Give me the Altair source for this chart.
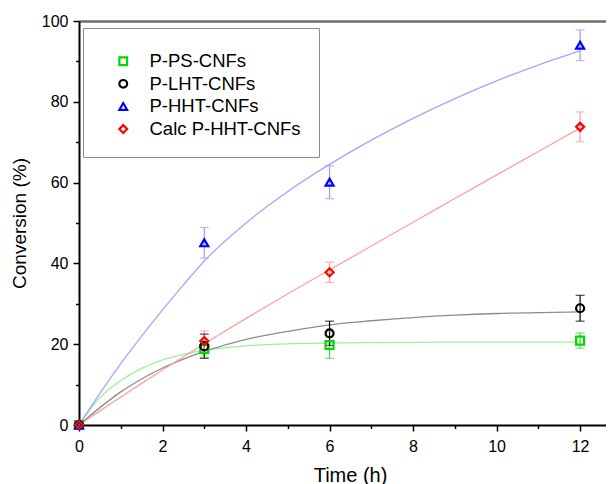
import altair as alt
import pandas as pd

series = ["P-PS-CNFs", "P-LHT-CNFs", "P-HHT-CNFs", "Calc P-HHT-CNFs"]
marker_colors = ["#00d800", "#000000", "#0000ff", "#ff0000"]
curve_colors = ["#9ef09e", "#8c8c8c", "#a5a5ff", "#ffa0a0"]
err_colors = ["#3cd83c", "#000000", "#9a9aff", "#ff9a9a"]
shapes = ["square", "circle", "triangle-up", "diamond"]

# measured points
t_pts = [0, 3, 6, 12]
ps_y = [0, 18.8, 19.8, 20.9]
ps_err = [0, 2.0, 3.3, 1.9]
lht_y = [0, 19.5, 22.7, 28.9]
lht_err = [0, 3.0, 3.0, 3.2]
hht_y = [0, 45.1, 60.1, 94.0]
hht_err = [0, 3.8, 4.1, 3.8]
calc_y = [0, 20.8, 37.8, 73.8]
calc_err = [0, 2.5, 2.5, 3.7]

# fitted curves
t_fit = [0, 0.5, 1, 1.5, 2, 2.5, 3, 4, 5, 6, 7, 8, 9, 10, 11, 12]
ps_fit = [0, 6.8, 11.0, 14.0, 16.1, 17.5, 18.5, 19.6, 20.1, 20.3, 20.4, 20.45, 20.5, 20.5, 20.5, 20.5]
lht_fit = [0, 4.3, 8.2, 11.4, 14.1, 16.3, 18.2, 21.2, 23.2, 24.8, 25.8, 26.6, 27.2, 27.6, 27.8, 28.0]
hht_fit = [0, 7.8, 15.2, 22.0, 28.5, 34.7, 40.6, 50.0, 57.8, 64.5, 70.5, 75.9, 80.8, 85.2, 89.1, 92.6]
calc_fit = [0, 3.5, 6.9, 10.3, 13.6, 16.9, 20.1, 26.4, 32.5, 38.4, 44.3, 50.2, 56.05, 61.9, 67.7, 73.5]

ys = [ps_y, lht_y, hht_y, calc_y]
errs = [ps_err, lht_err, hht_err, calc_err]
fits = [ps_fit, lht_fit, hht_fit, calc_fit]

pts_rows, err_rows, cap_rows, fit_rows = [], [], [], []
for s, yv, ev, fv in zip(series, ys, errs, fits):
    for t, y, e in zip(t_pts, yv, ev):
        pts_rows.append({"series": s, "t": t, "v": y})
        if e > 0:
            err_rows.append({"series": s, "key": "err:" + s, "t": t, "lo": y - e, "hi": y + e})
            cap_rows.append({"series": s, "t": t, "c": y - e})
            cap_rows.append({"series": s, "t": t, "c": y + e})
    for t, f in zip(t_fit, fv):
        fit_rows.append({"series": s, "key": "fit:" + s, "t": t, "v": f})

pts = pd.DataFrame(pts_rows)
errdf = pd.DataFrame(err_rows)
caps = pd.DataFrame(cap_rows)
fitdf = pd.DataFrame(fit_rows)

stroke_scale = alt.Scale(domain=["fit:" + s for s in series] + ["err:" + s for s in series],
                         range=curve_colors + err_colors)

FONT = "Liberation Sans"
XS = alt.Scale(domain=[0, 12.62], nice=False, zero=False)
YS = alt.Scale(domain=[0, 100], nice=False)

x_major = alt.Axis(orient="bottom", values=[0, 2, 4, 6, 8, 10, 12], title="Time (h)",
                   tickSize=6, tickWidth=1.5, tickColor="black", domainColor="black",
                   domainWidth=2, labelFontSize=16, labelPadding=7, labelColor="black",
                   labelFont=FONT, titleFont=FONT, titleFontSize=20, titleFontWeight="normal",
                   titleColor="black", titlePadding=11, titleX=271, grid=False, format="d",
                   labelFlush=False)
y_major = alt.Axis(orient="left", values=[0, 20, 40, 60, 80, 100], title="Conversion (%)",
                   tickSize=6, tickWidth=1.5, tickColor="black", domainColor="black",
                   domainWidth=2, labelFontSize=16, labelPadding=5, labelColor="black",
                   labelFont=FONT, titleFont=FONT, titleFontSize=19, titleFontWeight="normal",
                   titleColor="black", titlePadding=12, grid=False, format="d",
                   labelFlush=False)
x_minor = alt.Axis(orient="bottom", values=[1, 3, 5, 7, 9, 11], title=None, labels=False,
                   domain=False, tickSize=3.5, tickWidth=1.5, tickColor="black", grid=False)
y_minor = alt.Axis(orient="left", values=[10, 30, 50, 70, 90], title=None, labels=False,
                   domain=False, tickSize=3.5, tickWidth=1.5, tickColor="black", grid=False)
x_top = alt.Axis(orient="top", title=None, labels=False, ticks=False, domainColor="#6e6e6e",
                 domainWidth=2.5, grid=False)

curves = alt.Chart(fitdf).mark_line(strokeWidth=1.3, interpolate="monotone").encode(
    x=alt.X("t:Q", scale=XS, axis=x_major),
    y=alt.Y("v:Q", scale=YS, axis=y_major),
    stroke=alt.Stroke("key:N", scale=stroke_scale, legend=None),
    detail="series:N",
)

minor_axes = alt.Chart(fitdf).mark_line(strokeOpacity=0).encode(
    x=alt.X("t:Q", scale=XS, axis=x_minor),
    y=alt.Y("v:Q", scale=YS, axis=y_minor),
    detail="series:N",
)
top_axis = alt.Chart(fitdf).mark_line(strokeOpacity=0).encode(
    x=alt.X("t:Q", scale=XS, axis=x_top),
    y=alt.Y("v:Q", scale=YS, axis=None),
    detail="series:N",
)

rules = alt.Chart(errdf).mark_rule(strokeWidth=1.2).encode(
    x=alt.X("t:Q", scale=XS, axis=None),
    y=alt.Y("lo:Q", scale=YS, axis=None),
    y2="hi:Q",
    stroke=alt.Stroke("key:N", scale=stroke_scale, legend=None),
)
capm = alt.Chart(caps).mark_tick(orient="horizontal", size=9, thickness=1.2).encode(
    x=alt.X("t:Q", scale=XS, axis=None),
    y=alt.Y("c:Q", scale=YS, axis=None),
    fill=alt.Fill("series:N", scale=alt.Scale(domain=series, range=err_colors), legend=None),
)

leg = alt.Legend(title=" ", titleFontSize=6, titlePadding=0, orient="none", legendX=4,
                 legendY=7, strokeColor="#8c8c8c", fillColor="white", padding=18,
                 symbolOffset=13, labelOffset=17, labelFontSize=18.5, labelFont=FONT,
                 labelColor="black", labelLimit=400, rowPadding=3.6, symbolSize=60,
                 symbolStrokeWidth=2.2)

points = alt.Chart(pts).mark_point(filled=False, strokeWidth=2.2, size=64, opacity=1).encode(
    x=alt.X("t:Q", scale=XS, axis=None),
    y=alt.Y("v:Q", scale=YS, axis=None),
    color=alt.Color("series:N", scale=alt.Scale(domain=series, range=marker_colors), legend=leg),
    shape=alt.Shape("series:N", scale=alt.Scale(domain=series, range=shapes), legend=leg),
)

chart = alt.layer(curves, minor_axes, top_axis, rules, capm, points).resolve_scale(
    color="independent", shape="independent"
).resolve_axis(
    x="independent", y="independent"
).properties(
    width=527, height=404, autosize="none",
    padding={"left": 71, "top": 13, "right": 0, "bottom": 62},
    background="white",
).configure_view(stroke=None)

chart.save("out.html", embed_options={"renderer": "svg", "actions": False})
